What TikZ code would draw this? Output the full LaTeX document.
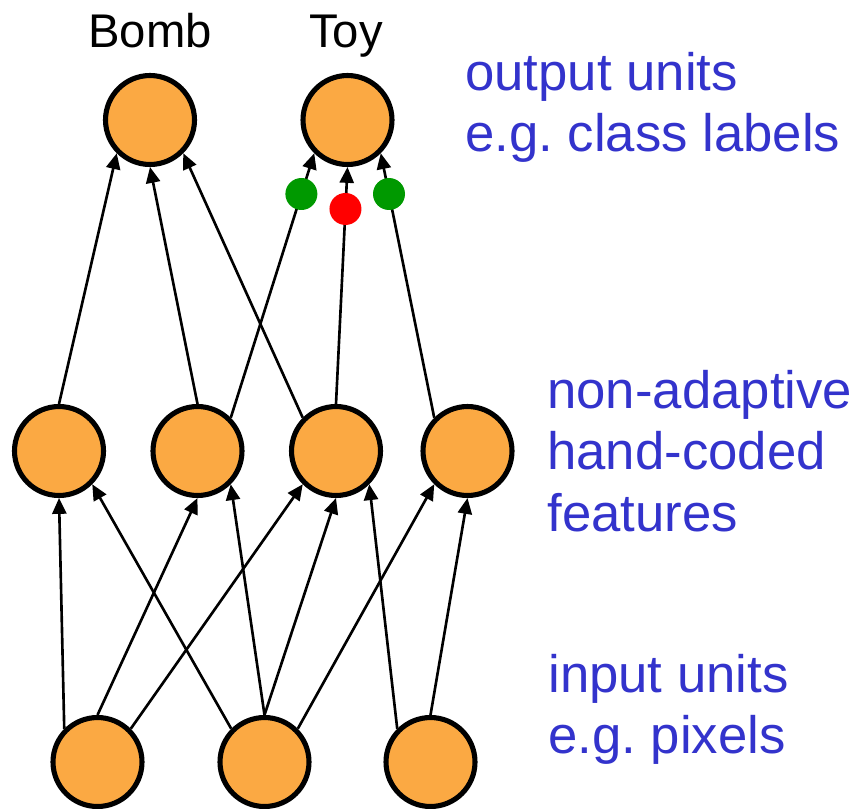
\documentclass[tikz,border=0pt]{standalone}
\usepackage{fontspec}
\setmainfont{Liberation Sans}
\usetikzlibrary{positioning,arrows.meta}

\begin{document}
\frenchspacing
\begin{tikzpicture}[x=0.02cm, y=-0.02cm]

      \definecolor{orange}{HTML}{FBA943}
      \definecolor{green}{HTML}{009900}
      \definecolor{red}{HTML}{FF0000}
      \definecolor{blue}{HTML}{3333CC}

      \tikzstyle{unit}      = [circle, draw = black, line width = 2.9pt, fill = orange, minimum size = 1.78cm, inner sep = 0pt]
      \tikzstyle{weight}    = [circle, minimum size = 0.64cm, inner sep = 0pt]
      \tikzstyle{connector} = [line width = 1.5pt, -{Triangle[length = 9pt, width = 8pt]}]

      \newcommand{\classname}[1]{\fontsize{26.9}{32}\selectfont #1}
      \newcommand{\layerdesc}[1]{\fontsize{30}{35.2}\selectfont \begin{tabular}[t]{@{}l@{}}#1\end{tabular}}

      \useasboundingbox (0,0) rectangle (861,808);

      \node [unit] (bomb)       at (150,120)   {};
      \node [unit] (toy)        at (347.5,120) {};
      \node [unit] (featone)    at (59,451)    {};
      \node [unit] (feattwo)    at (197.5,451) {};
      \node [unit] (featthree)  at (336,451)   {};
      \node [unit] (featfour)   at (467.5,451) {};
      \node [unit] (pixone)     at (97.5,762)  {};
      \node [unit] (pixtwo)     at (264.5,762) {};
      \node [unit] (pixthree)   at (430.5,762) {};

      \draw [connector] (pixone.north west)   -- (featone.south);
      \draw [connector] (pixone.north)        -- (feattwo.south);
      \draw [connector] (pixone.north east)   -- (featthree.south west);
      \draw [connector] (pixtwo.north west)   -- (featone.south east);
      \draw [connector] (pixtwo.north)        -- (feattwo.south east);
      \draw [connector] (pixtwo.north)        -- (featthree.south);
      \draw [connector] (pixtwo.north east)   -- (featfour.south west);
      \draw [connector] (pixthree.north west) -- (featthree.south east);
      \draw [connector] (pixthree.north)      -- (featfour.south);

      \draw [connector] (featone.north)        -- (bomb.south west);
      \draw [connector] (feattwo.north)        -- (bomb.south);
      \draw [connector] (feattwo.north east)   -- node [weight, fill = green, pos = .846] (plusone) {} (toy.south west);
      \draw [connector] (featthree.north west) -- (bomb.south east);
      \draw [connector] (featthree.north)      -- node [weight, fill = red,   pos = .823] (minus)   {} (toy.south);
      \draw [connector] (featfour.north west)  -- node [weight, fill = green, pos = .846] (plustwo) {} (toy.south east);

      \node [anchor = base]                                (bombname) at (150,47)  {\classname{Bomb}};
      \node [anchor = base]                                (toyname)  at (346,47)  {\classname{Toy}};
      \node [anchor = base west, text = blue, inner sep = 0pt] (outdesc)  at (465,90)  {\layerdesc{output units\\e.g. class labels}};
      \node [anchor = base west, text = blue, inner sep = 0pt] (featdesc) at (547,408) {\layerdesc{non-adaptive\\hand-coded\\features}};
      \node [anchor = base west, text = blue, inner sep = 0pt] (pixdesc)  at (548,692) {\layerdesc{input units\\e.g. pixels}};

    \end{tikzpicture}
\end{document}
